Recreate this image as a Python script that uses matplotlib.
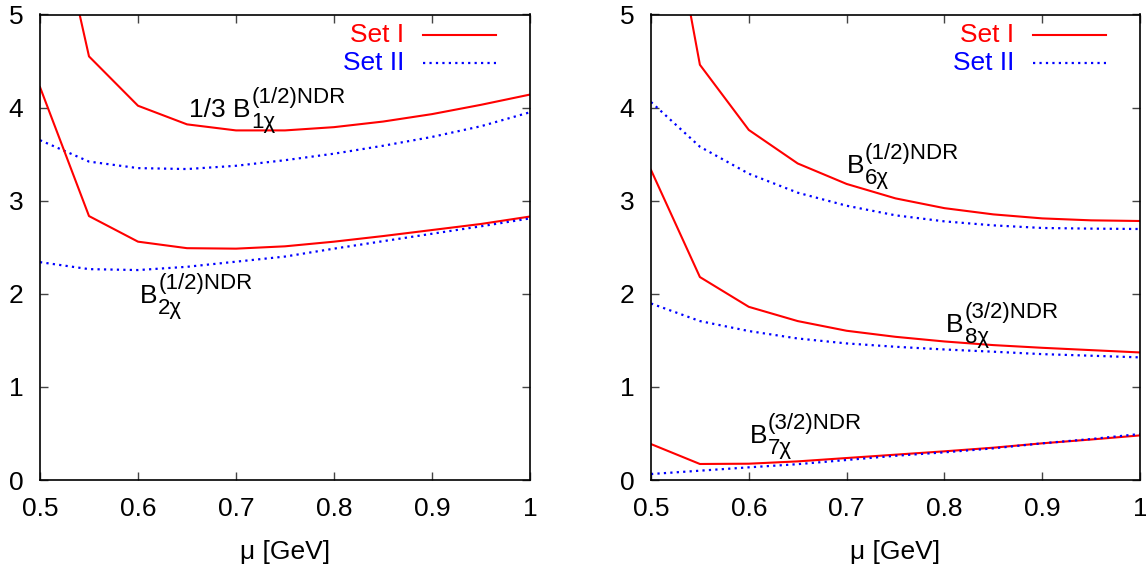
import matplotlib
matplotlib.use("Agg")
import matplotlib.pyplot as plt
import numpy as np

plt.rcParams['font.family'] = ['Liberation Sans', 'DejaVu Sans']

mu = [0.5, 0.55, 0.6, 0.65, 0.7, 0.75, 0.8, 0.85, 0.9, 0.95, 1.0]

# Left panel
b1_set1 = [6.9, 4.55, 4.02, 3.82, 3.755, 3.755, 3.79, 3.85, 3.93, 4.03, 4.14]
b1_set2 = [3.65, 3.42, 3.35, 3.34, 3.375, 3.435, 3.505, 3.59, 3.685, 3.80, 3.95]
b2_set1 = [4.22, 2.835, 2.56, 2.49, 2.485, 2.51, 2.56, 2.62, 2.685, 2.75, 2.83]
b2_set2 = [2.34, 2.265, 2.255, 2.29, 2.345, 2.40, 2.485, 2.565, 2.645, 2.725, 2.81]

# Right panel
b6_set1 = [7.3, 4.46, 3.76, 3.40, 3.18, 3.025, 2.92, 2.853, 2.81, 2.789, 2.782]
b6_set2 = [4.06, 3.58, 3.29, 3.086, 2.946, 2.843, 2.778, 2.735, 2.707, 2.70, 2.696]
b8_set1 = [3.33, 2.18, 1.86, 1.707, 1.603, 1.538, 1.488, 1.449, 1.42, 1.395, 1.37]
b8_set2 = [1.896, 1.707, 1.60, 1.52, 1.467, 1.431, 1.402, 1.378, 1.352, 1.335, 1.317]
b7_set1 = [0.386, 0.172, 0.175, 0.20, 0.236, 0.272, 0.308, 0.347, 0.394, 0.435, 0.479]
b7_set2 = [0.064, 0.10, 0.136, 0.17, 0.215, 0.26, 0.297, 0.34, 0.394, 0.44, 0.494]

xticks = [0.5, 0.6, 0.7, 0.8, 0.9, 1.0]
xticklabels = ["0.5", "0.6", "0.7", "0.8", "0.9", "1"]
yticks = [0, 1, 2, 3, 4, 5]
yticklabels = ["0", "1", "2", "3", "4", "5"]
legend_labels = ["Set I", "Set II"]
xlabel = "\u03bc [GeV]"

# curve labels: (main, subscript, superscript)
lab_b1 = ("1/3 B", "1\u03c7", "(1/2)NDR")
lab_b2 = ("B", "2\u03c7", "(1/2)NDR")
lab_b6 = ("B", "6\u03c7", "(1/2)NDR")
lab_b8 = ("B", "8\u03c7", "(3/2)NDR")
lab_b7 = ("B", "7\u03c7", "(3/2)NDR")

W, H = 1146, 569
DPI = 100
fig = plt.figure(figsize=(W / DPI, H / DPI), dpi=DPI)

def px_axes(x0, x1, y0, y1):
    return fig.add_axes([x0 / W, 1 - y1 / H, (x1 - x0) / W, (y1 - y0) / H])

axL = px_axes(40, 530, 14.5, 480)
axR = px_axes(651, 1140, 14.5, 480)

RED = '#ff0000'
BLUE = '#0000ff'
dot = (0, (1, 1.9))
FS = 19
FS_SCRIPT = 16

def style(ax):
    ax.set_xlim(0.5, 1.0)
    ax.set_ylim(0, 5)
    ax.set_xticks(xticks)
    ax.set_xticklabels(xticklabels)
    ax.set_yticks(yticks)
    ax.set_yticklabels(yticklabels)
    ax.tick_params(direction='in', top=True, right=True, length=6, width=1,
                   labelsize=FS, color='#444444')
    ax.tick_params(axis='x', pad=12)
    ax.tick_params(axis='y', pad=12)
    for s in ax.spines.values():
        s.set_linewidth(1.2)
    ax.set_xlabel(xlabel, fontsize=FS, labelpad=14)
    ax.text(0.743, 0.956, legend_labels[0], color=RED, fontsize=FS,
            ha='right', va='center', transform=ax.transAxes)
    ax.text(0.743, 0.896, legend_labels[1], color=BLUE, fontsize=FS,
            ha='right', va='center', transform=ax.transAxes)
    ax.plot([0.782, 0.931], [0.956, 0.956], color=RED, lw=1.5, transform=ax.transAxes)
    ax.plot([0.782, 0.931], [0.896, 0.896], color=BLUE, lw=1.6, ls=dot,
            transform=ax.transAxes)

for ax in (axL, axR):
    style(ax)

axL.plot(mu, b1_set1, color=RED, lw=1.5)
axL.plot(mu, b1_set2, color=BLUE, lw=1.6, ls=dot)
axL.plot(mu, b2_set1, color=RED, lw=1.5)
axL.plot(mu, b2_set2, color=BLUE, lw=1.6, ls=dot)

axR.plot(mu, b6_set1, color=RED, lw=1.5)
axR.plot(mu, b6_set2, color=BLUE, lw=1.6, ls=dot)
axR.plot(mu, b8_set1, color=RED, lw=1.5)
axR.plot(mu, b8_set2, color=BLUE, lw=1.6, ls=dot)
axR.plot(mu, b7_set1, color=RED, lw=1.5)
axR.plot(mu, b7_set2, color=BLUE, lw=1.6, ls=dot)

renderer = fig.canvas.get_renderer()

def curve_label(ax, x, y, lab):
    main, sub, sup = lab
    t = ax.text(x, y, main, fontsize=FS, ha='left', va='baseline')
    w_pt = t.get_window_extent(renderer).width * 72 / DPI
    ax.annotate(sup, xy=(x, y), xycoords='data', xytext=(w_pt + 0.5, 10),
                textcoords='offset points', fontsize=FS_SCRIPT,
                ha='left', va='baseline')
    ax.annotate(sub, xy=(x, y), xycoords='data', xytext=(w_pt + 0.5, -8),
                textcoords='offset points', fontsize=FS_SCRIPT,
                ha='left', va='baseline')

curve_label(axL, 0.652, 3.90, lab_b1)
curve_label(axL, 0.602, 1.90, lab_b2)
curve_label(axR, 0.700, 3.30, lab_b6)
curve_label(axR, 0.802, 1.59, lab_b8)
curve_label(axR, 0.601, 0.40, lab_b7)

fig.savefig('out.png', dpi=DPI)
